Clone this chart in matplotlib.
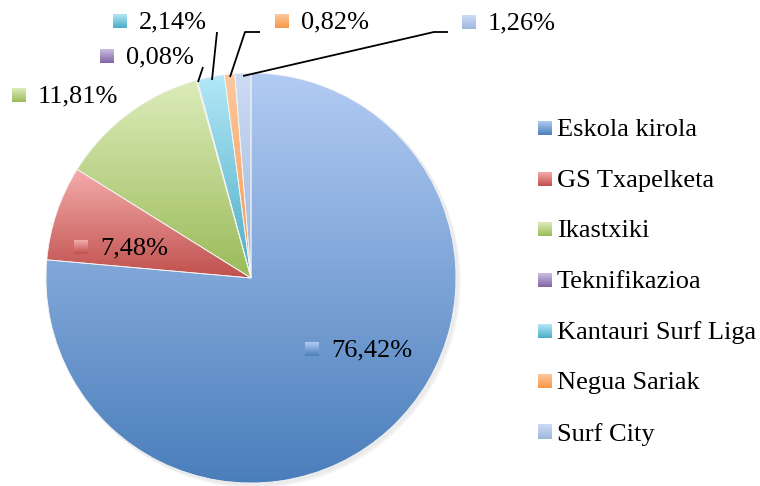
import numpy as np
import matplotlib
matplotlib.use('Agg')
import matplotlib.pyplot as plt
from matplotlib.colors import LinearSegmentedColormap
from matplotlib.patches import Circle

plt.rcParams['font.family'] = ['Liberation Serif', 'DejaVu Serif']

labels = ['Eskola kirola', 'GS Txapelketa', 'Ikastxiki', 'Teknifikazioa',
          'Kantauri Surf Liga', 'Negua Sariak', 'Surf City']
shares = [76.42, 7.48, 11.81, 0.08, 2.14, 0.82, 1.26]

# gradient colours, top (light) -> bottom (dark)
tops = ['#b2cbf3', '#f4acab', '#dcecba', '#cdbde2', '#b3e8f7', '#fdc9a0', '#cddcf5']
bottoms = ['#4a7ebb', '#c0504d', '#9bbb59', '#8064a2', '#4bacc6', '#f79646', '#9db7dc']

W, H = 760, 486
fig = plt.figure(figsize=(W / 100, H / 100), dpi=100)
ax = fig.add_axes([0, 0, 1, 1])
ax.axis('off')

cx, cy, R = 251, H - 278, 205


def grad_fill(x0, x1, y0, y1, top, bottom, clip=None, z=2):
    cmap = LinearSegmentedColormap.from_list('g', [bottom, top])
    g = np.linspace(0, 1, 256).reshape(-1, 1)
    im = ax.imshow(g, cmap=cmap, extent=[x0, x1, y0, y1], origin='lower',
                   aspect='auto', zorder=z, interpolation='bilinear')
    if clip is not None:
        im.set_clip_path(clip)
    return im


# soft shadow
for k in range(3):
    ax.add_patch(Circle((cx + 2 + k, cy - 2 - k), R + 1, color='#808080', alpha=0.05, lw=0, zorder=0))

wedges, _ = ax.pie(shares, startangle=90, counterclock=False, center=(cx, cy), radius=R,
                   colors=bottoms, wedgeprops=dict(linewidth=0.6, edgecolor='#f4f4f4'))

for w, t, b in zip(wedges, tops, bottoms):
    ext = w.get_path().get_extents(w.get_patch_transform())
    grad_fill(ext.x0, ext.x1, ext.y0, ext.y1, t, b, clip=w, z=1.5)
    w.set_facecolor('none')
    w.set_zorder(3)

fs = 19

# data labels (image coords: marker left x, centre y)
lab_pos = [(305, 349), (74, 247), (12, 95), (100, 56), (113, 21), (275, 21), (462, 22)]
for (mx, my), v, t, b in zip(lab_pos, shares, tops, bottoms):
    yy = H - my
    grad_fill(mx, mx + 14, yy - 7, yy + 7, t, b, z=4)
    ax.text(mx + 26, yy - 1, f'{v:.2f}'.replace('.', ',') + '%', fontsize=fs,
            va='center', ha='left', zorder=5)

# leader lines for the small slices
leaders = [
    [(203, 67), (198, 82)],
    [(217, 32), (212, 80)],
    [(260, 32), (245, 32), (230, 77)],
    [(448, 32), (434, 32), (243, 76)],
]
for pts in leaders:
    xs = [p[0] for p in pts]
    ys = [H - p[1] for p in pts]
    ax.plot(xs, ys, color='black', lw=1.3, zorder=6, solid_capstyle='butt')

# legend
for i, (name, t, b) in enumerate(zip(labels, tops, bottoms)):
    yy = H - (128 + 50.67 * i)
    grad_fill(538, 552, yy - 7, yy + 7, t, b, z=4)
    ax.text(557, yy - 2, name, fontsize=fs, va='center', ha='left', zorder=5)

ax.set_xlim(0, W)
ax.set_ylim(0, H)
ax.set_aspect('auto')

fig.savefig('out.png', dpi=100)
